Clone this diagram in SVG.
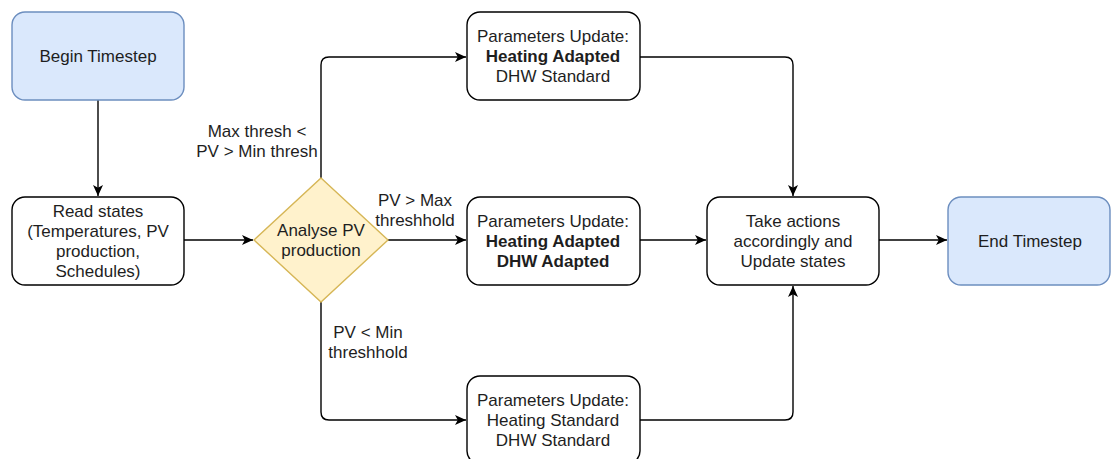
<svg xmlns="http://www.w3.org/2000/svg" width="1111" height="459" viewBox="0 0 1111 459">
  <defs>
    <marker id="arrow" viewBox="0 0 11 10" refX="11" refY="5" markerWidth="11" markerHeight="10" markerUnits="userSpaceOnUse" orient="auto">
      <path d="M0,0 L11,5 L0,10 L2.8,5 Z" fill="#000"/>
    </marker>
    <style>
      .box { fill: #ffffff; stroke: #000000; stroke-width: 1.4; }
      .term { fill: #dae8fc; stroke: #6c8ebf; stroke-width: 1.4; }
      .decision { fill: #fff2cc; stroke: #d6b656; stroke-width: 1.4; }
      .edge { fill: none; stroke: #000000; stroke-width: 1.4; marker-end: url(#arrow); }
      text { font-family: "Liberation Sans", Arial, sans-serif; font-size: 17px; fill: #1e1e1e; text-anchor: middle; }
      .b { font-weight: bold; }
    </style>
  </defs>

  <!-- connectors -->
  <g id="connectors">
    <path class="edge" d="M98,100 L98,196"/>
    <path class="edge" d="M184,240 L253,240"/>
    <path class="edge" d="M388,240 L466,240"/>
    <path class="edge" d="M321,178 L321,65 Q321,57 329,57 L466,57"/>
    <path class="edge" d="M321,302 L321,412 Q321,420 329,420 L466,420"/>
    <path class="edge" d="M640,57 L785,57 Q793,57 793,65 L793,196"/>
    <path class="edge" d="M640,420 L785,420 Q793,420 793,412 L793,286"/>
    <path class="edge" d="M640,240 L706,240"/>
    <path class="edge" d="M879,240 L947,240"/>
    <!-- branch labels -->
    <text x="257" y="137">Max thresh &lt;</text>
    <text x="257" y="157">PV &gt; Min thresh</text>
    <text x="415" y="206">PV &gt; Max</text>
    <text x="415" y="226">threshhold</text>
    <text x="368" y="338">PV &lt; Min</text>
    <text x="368" y="358">threshhold</text>
  </g>

  <g id="begin">
    <rect class="term" x="12" y="12" width="172" height="88" rx="13"/>
    <text x="98" y="62">Begin Timestep</text>
  </g>

  <g id="read-states">
    <rect class="box" x="12" y="197" width="172" height="88" rx="13"/>
    <text x="98" y="217">Read states</text>
    <text x="98" y="237">(Temperatures, PV</text>
    <text x="98" y="257">production,</text>
    <text x="98" y="277">Schedules)</text>
  </g>

  <g id="analyse">
    <polygon class="decision" points="321,178 388,240 321,302 254,240"/>
    <text x="321" y="236">Analyse PV</text>
    <text x="321" y="256">production</text>
  </g>

  <g id="update-heating">
    <rect class="box" x="467" y="12" width="173" height="88" rx="13"/>
    <text x="553" y="42">Parameters Update:</text>
    <text x="553" y="62" class="b">Heating Adapted</text>
    <text x="553" y="82">DHW Standard</text>
  </g>

  <g id="update-both">
    <rect class="box" x="467" y="197" width="173" height="88" rx="13"/>
    <text x="553" y="227">Parameters Update:</text>
    <text x="553" y="247" class="b">Heating Adapted</text>
    <text x="553" y="267" class="b">DHW Adapted</text>
  </g>

  <g id="update-standard">
    <rect class="box" x="467" y="376" width="173" height="88" rx="13"/>
    <text x="553" y="406">Parameters Update:</text>
    <text x="553" y="426">Heating Standard</text>
    <text x="553" y="446">DHW Standard</text>
  </g>

  <g id="take-actions">
    <rect class="box" x="707" y="197" width="172" height="88" rx="13"/>
    <text x="793" y="227">Take actions</text>
    <text x="793" y="247">accordingly and</text>
    <text x="793" y="267">Update states</text>
  </g>

  <g id="end">
    <rect class="term" x="948" y="197" width="162" height="88" rx="13"/>
    <text x="1030" y="247">End Timestep</text>
  </g>
</svg>
